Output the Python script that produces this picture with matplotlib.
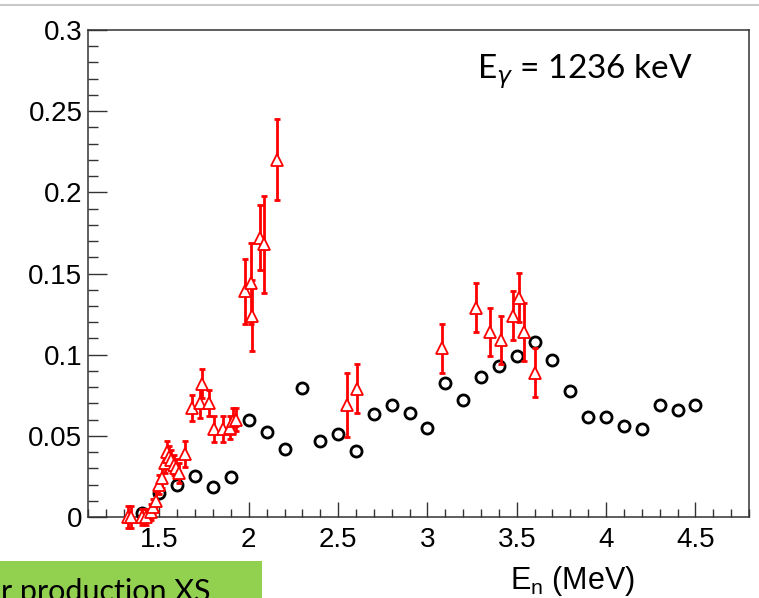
import numpy as np
import matplotlib
matplotlib.use('Agg')
import matplotlib.pyplot as plt
from matplotlib.ticker import MultipleLocator
from matplotlib.patches import Rectangle
from matplotlib.lines import Line2D

matplotlib.rcParams.update({'font.family': 'Liberation Sans'})

# evaluated cross section (black open circles)
e_eval = [1.4, 1.5, 1.6, 1.7, 1.8, 1.9, 2.0, 2.1, 2.2, 2.3, 2.4, 2.5, 2.6, 2.7,
          2.8, 2.9, 3.0, 3.1, 3.2, 3.3, 3.4, 3.5, 3.6, 3.7, 3.8, 3.9, 4.0, 4.1,
          4.2, 4.3, 4.4, 4.5]
xs_eval = [0.0025, 0.015, 0.020, 0.0254, 0.0187, 0.0244, 0.060, 0.0523, 0.042,
           0.0794, 0.0468, 0.0509, 0.0406, 0.0634, 0.0689, 0.0638, 0.055,
           0.0826, 0.072, 0.0863, 0.0929, 0.099, 0.1075, 0.0966, 0.0777,
           0.0617, 0.0617, 0.0562, 0.0542, 0.0691, 0.0657, 0.0691]

# measured cross section (red open triangles with errors)
e_meas = [1.325, 1.34, 1.405, 1.425, 1.45, 1.465, 1.48, 1.50, 1.515, 1.53,
          1.545, 1.555, 1.565, 1.58, 1.595, 1.61, 1.645, 1.68, 1.725, 1.74,
          1.775, 1.805, 1.855, 1.895, 1.91, 1.93, 1.98, 2.01, 2.02, 2.06,
          2.085, 2.16, 2.549, 2.605, 3.079, 3.271, 3.35, 3.41, 3.48, 3.511,
          3.543, 3.603]
xs_meas = [0.0, 0.0, 0.0, 0.0, 0.003, 0.006, 0.010, 0.020, 0.024, 0.033,
           0.040, 0.037, 0.035, 0.032, 0.030, 0.027, 0.039, 0.067, 0.070,
           0.082, 0.070, 0.054, 0.054, 0.055, 0.059, 0.060, 0.139, 0.144,
           0.124, 0.172, 0.168, 0.220, 0.069, 0.079, 0.104, 0.129, 0.114,
           0.109, 0.124, 0.135, 0.114, 0.089]
err_meas = [0.007, 0.007, 0.005, 0.005, 0.005, 0.005, 0.006, 0.006, 0.006,
            0.006, 0.007, 0.007, 0.006, 0.006, 0.006, 0.006, 0.008, 0.008,
            0.009, 0.009, 0.008, 0.008, 0.008, 0.007, 0.008, 0.007, 0.02,
            0.025, 0.022, 0.02, 0.03, 0.025, 0.02, 0.015, 0.015, 0.015,
            0.015, 0.015, 0.015, 0.015, 0.018, 0.015]

fig = plt.figure(figsize=(7.59, 5.98), dpi=100)
ax = fig.add_axes([88/759, 1-517/598, (749-88)/759, (517-30)/598])

ax.plot(e_eval, xs_eval, 'o', ms=8, mfc='none', mec='black', mew=2,
        zorder=3, clip_on=False)
ax.errorbar(e_meas, xs_meas, yerr=err_meas, fmt='none', ecolor='red',
            elinewidth=2, capsize=2.5, capthick=2, zorder=4, clip_on=False)
ax.plot(e_meas, xs_meas, '^', ms=9, mfc='white', mec='red', mew=1.3,
        zorder=5, clip_on=False)

ax.set_xlim(1.1, 4.8)
ax.set_ylim(0, 0.3)

ax.xaxis.set_minor_locator(MultipleLocator(0.1))
ax.yaxis.set_minor_locator(MultipleLocator(0.01))
ax.set_xticks([1.5, 2, 2.5, 3, 3.5, 4, 4.5])
ax.set_xticklabels(['1.5', '2', '2.5', '3', '3.5', '4', '4.5'])
ax.set_yticks([0, 0.05, 0.1, 0.15, 0.2, 0.25, 0.3])
ax.set_yticklabels(['0', '0.05', '0.1', '0.15', '0.2', '0.25', '0.3'])

ax.tick_params(axis='x', which='major', direction='in', length=11, width=1,
               labelsize=20, pad=7, color='#333333')
ax.tick_params(axis='x', which='minor', direction='in', length=5.5, width=1,
               color='#333333')
ax.tick_params(axis='y', which='major', direction='in', length=14, width=1,
               labelsize=20, pad=4, color='#333333')
ax.tick_params(axis='y', which='minor', direction='in', length=7, width=1,
               color='#333333')
for s in ax.spines.values():
    s.set_color('#333333')
    s.set_linewidth(1.1)

ax.text(0.588, 0.914, r'E$_{\gamma}$ = 1236 keV', transform=ax.transAxes,
        fontsize=24, family='Lato', ha='left', va='center')

fig.text(573/759, 1-581/598, r'E$_\mathregular{n}$ (MeV)', fontsize=22,
         ha='center', va='center')

# grey separator line at the top
fig.add_artist(Line2D([0, 1], [1-5/598, 1-5/598], color='#c8c8c8', lw=1.5,
                      transform=fig.transFigure))

# green label box, cut at the bottom like in the slide
fig.add_artist(Rectangle((0, 0), 262/759, 37/598, transform=fig.transFigure,
                         facecolor='#92d050', edgecolor='none'))
fig.text(1/759, -3/598, 'r production XS', fontsize=22, family='Lato',
         ha='left', va='baseline')

fig.savefig('out.png', dpi=100)
